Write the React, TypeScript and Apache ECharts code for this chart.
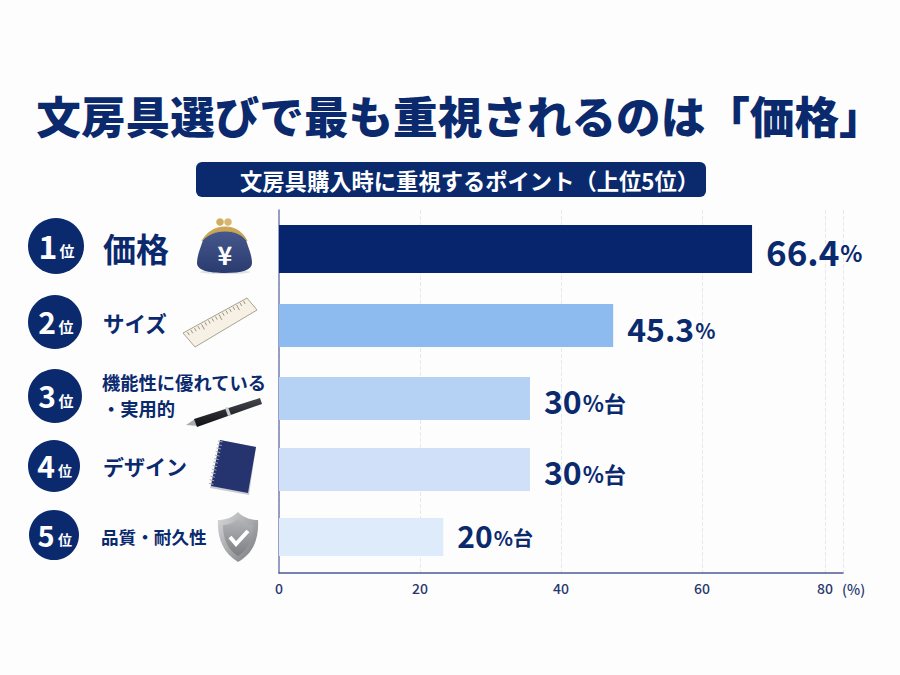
import React, { useEffect, useRef } from "react";
import * as echarts from "echarts";

const titleText = "文房具選びで最も重視されるのは「価格」";
const subtitleText = "文房具購入時に重視するポイント（上位5位）";
const categories = ["価格", "サイズ", "機能性に優れている・実用的", "デザイン", "品質・耐久性"];
const ranks = ["1", "2", "3", "4", "5"];
// bar lengths as they read against the drawn axis
const values = [67.1, 47.4, 35.6, 35.6, 23.3];
const valueTexts = ["66.4", "45.3", "30", "30", "20"];
const valueSuffixes = ["%", "%", "%台", "%台", "%台"];
const barColors = ["#06256c", "#8dbaef", "#b5d2f5", "#cfe0f8", "#deebfb"];
const ticks = [0, 20, 40, 60];
const lastTick = 80;

const NAVY = "#0b2a6e";
const FONT = '"Noto Sans CJK JP", "Noto Sans", sans-serif';
const rowLayout = [
  { top: 225, h: 48, num: 35, suf: 23, dy: 1 },
  { top: 304, h: 43, num: 32, suf: 21, dy: 2 },
  { top: 377, h: 43, num: 32, suf: 22, dy: 1 },
  { top: 448, h: 43, num: 32, suf: 22, dy: 1 },
  { top: 518, h: 38, num: 30, suf: 20, dy: -2 },
];
const badges = [
  { cx: 56, cy: 246, r: 28, d: 32, w: 15 },
  { cx: 55, cy: 322, r: 27, d: 30, w: 15 },
  { cx: 55, cy: 396, r: 27, d: 30, w: 15 },
  { cx: 54, cy: 466, r: 26, d: 30, w: 14 },
  { cx: 54, cy: 535, r: 25, d: 29, w: 14 },
];
const GRID_LEFT = 279;
const GRID_W = 564;

const shapeFrom = (name: string, d: string) =>
  echarts.graphic.registerShape(name, (echarts.graphic as any).extendPath(d, {}));
shapeFrom("purse", "M203 240 C208 232 216 229 225 229 C234 229 242 232 246 240 C248 247 252 255 252 263 C252 270 242 273 225 273 C208 273 197 270 197 263 C197 255 201 247 203 240 Z");
shapeFrom("purseFrame", "M202 241 C207 232 215 227 225 227 C235 227 243 232 247 241 C242 234 234 231 225 231 C216 231 208 234 202 241 Z");
shapeFrom("shieldOuter", "M238 512 C244 518 251 520 258 520 C259 538 254 553 238 562 C223 553 217 538 218 520 C225 520 232 518 238 512 Z");
shapeFrom("shieldInner", "M238 519 C243 523 248 525 253 525 C253 538 249 549 238 556 C227 549 223 538 223 525 C228 525 233 523 238 519 Z");

function icons(): any[] {
  const grad = (x: number, y: number, x2: number, y2: number, a: string, b: string) =>
    new echarts.graphic.LinearGradient(x, y, x2, y2, [{ offset: 0, color: a }, { offset: 1, color: b }]);
  const out: any[] = [
    // purse
    { type: "ellipse", shape: { cx: 225, cy: 272, rx: 25, ry: 2 }, style: { fill: "#dde0e6" } },
    { type: "purse", style: { fill: grad(0, 0, 0, 1, "#47598d", "#2a3b70") } },
    { type: "purseFrame", style: { fill: "#c9a555", stroke: "#c9a555", lineWidth: 1 } },
    { type: "circle", shape: { cx: 220, cy: 222, r: 3.8 }, style: { fill: "#d1ad62" } },
    { type: "circle", shape: { cx: 228, cy: 222, r: 3.8 }, style: { fill: "#d8b76f" } },
    { type: "text", style: { x: 225, y: 254, text: "¥", fill: "#fff", font: `700 25px ${FONT}`, align: "center", verticalAlign: "middle" } },
    // ruler
    { type: "polygon", shape: { points: [[183, 333], [247, 298], [257, 310], [195, 347]] }, style: { fill: "#f6f1e4", stroke: "#a9a28e", lineWidth: 1 } },
    // pen
    { type: "polygon", shape: { points: [[186, 425], [195, 419], [198, 426]] }, style: { fill: "#a8abb0" } },
    { type: "polygon", shape: { points: [[194, 419], [260, 398], [262, 404], [197, 427]] }, style: { fill: grad(0, 0, 0, 1, "#44464c", "#101116") } },
    { type: "polygon", shape: { points: [[225, 408], [228, 407], [231, 415], [228, 416]] }, style: { fill: "#c8ccd2" } },
    // notebook
    { type: "polygon", shape: { points: [[220, 440], [256, 447], [249, 495], [210, 488]] }, style: { fill: "#c9ccd3" } },
    { type: "polygon", shape: { points: [[220, 440], [256, 447], [248, 493], [211, 486]] }, style: { fill: "#25336f" } },
    // shield
    { type: "shieldOuter", style: { fill: grad(0, 0, 1, 1, "#d9dadc", "#77797d") } },
    { type: "shieldInner", style: { fill: grad(0, 0, 0, 1, "#b4b5b8", "#7c7e82") } },
    { type: "polyline", shape: { points: [[230, 537], [236, 544], [248, 531]] }, style: { stroke: "#fff", lineWidth: 4, fill: "none" } },
  ];
  for (let i = 1; i < 18; i++) {
    const t = i / 18;
    const x = 184 + t * 63;
    const y = 334 - t * 35;
    const len = i % 5 === 0 ? 6 : 3.5;
    out.push({ type: "line", shape: { x1: x, y1: y, x2: x + len * 0.48, y2: y + len * 0.88 }, style: { stroke: "#6f6a5c", lineWidth: 0.7 } });
  }
  for (let i = 0; i < 13; i++) {
    const t = i / 12.5;
    const x = 220 - t * 9.5;
    const y = 442 + t * 44;
    out.push({ type: "line", shape: { x1: x - 2, y1: y - 1, x2: x + 2.5, y2: y }, style: { stroke: "#a9acb3", lineWidth: 1 } });
  }
  return out;
}

function textAt(x: number, y: number, text: string, size: number, fill = NAVY, align = "left", weight = 700) {
  return { type: "text", z: 10, style: { x, y, text, fill, font: `${weight} ${size}px ${FONT}`, align, verticalAlign: "middle" } };
}

export default function App() {
  const ref = useRef<HTMLDivElement>(null);
  useEffect(() => {
    document.body.style.margin = "0";
    const chart = echarts.init(ref.current!, null, { renderer: "svg" });
    const rowGrids = rowLayout.map((r) => ({ left: GRID_LEFT, width: GRID_W, top: r.top, height: r.h }));
    const badgeEls = badges.flatMap((b, i) => [
      { type: "circle", shape: { cx: b.cx, cy: b.cy, r: b.r }, style: { fill: NAVY } },
      { type: "text", style: { x: b.cx - 8, y: b.cy - 1, text: ranks[i], fill: "#fff", font: `700 ${b.d}px ${FONT}`, align: "center", verticalAlign: "middle" } },
      { type: "text", style: { x: b.cx + 11, y: b.cy + 4, text: "位", fill: "#fff", font: `700 ${b.w}px ${FONT}`, align: "center", verticalAlign: "middle" } },
    ]);
    const tickLabel = { color: "#28386f", fontSize: 14, fontWeight: 500, margin: 8, fontFamily: FONT };
    const option: any = {
      animation: false,
      backgroundColor: "#fdfdfe",
      textStyle: { fontFamily: FONT },
      title: {
        text: titleText,
        left: 455,
        top: 87,
        textAlign: "center",
        textStyle: { fontFamily: FONT, fontSize: 44.6, fontWeight: 800, color: NAVY },
      },
      grid: [{ left: GRID_LEFT, width: GRID_W, top: 210, height: 363 }, ...rowGrids],
      xAxis: [
        {
          gridIndex: 0, type: "value", position: "bottom", min: 0, max: lastTick, interval: 20,
          axisLine: { show: true, lineStyle: { color: "#4d5a92", width: 1.5 } },
          axisTick: { show: false },
          axisLabel: { ...tickLabel, customValues: ticks },
          splitLine: { show: true, lineStyle: { color: "#e6e8ee", type: "dashed", width: 1 } },
        },
        {
          // the printed 80 tick stands short of the axis end in the reference
          gridIndex: 0, type: "value", position: "bottom", min: 0, max: (lastTick * GRID_W) / 546,
          axisLine: { show: false },
          axisTick: { show: false, customValues: [lastTick] },
          axisLabel: { ...tickLabel, customValues: [lastTick] },
          splitLine: { show: true, lineStyle: { color: "#e6e8ee", type: "dashed", width: 1 } },
        },
        ...rowLayout.map((_, i) => ({ gridIndex: i + 1, type: "value", min: 0, max: lastTick, show: false })),
      ],
      yAxis: [
        {
          gridIndex: 0, type: "category", data: categories, inverse: true,
          axisLine: { show: true, lineStyle: { color: "#7480b0", width: 1.5 } },
          axisTick: { show: false }, axisLabel: { show: false },
        },
        ...rowLayout.map((_, i) => ({ gridIndex: i + 1, type: "category", data: [categories[i]], show: false })),
      ],
      series: values.map((v, i) => ({
        type: "bar",
        name: categories[i],
        xAxisIndex: i + 2,
        yAxisIndex: i + 1,
        barWidth: "100%",
        data: [v],
        itemStyle: { color: barColors[i] },
        label: {
          show: true,
          position: "right",
          distance: 14,
          offset: [0, rowLayout[i].dy],
          formatter: () => `{n|${valueTexts[i]}}{s|${valueSuffixes[i]}}`,
          rich: {
            n: { fontFamily: FONT, fontWeight: 700, fontSize: rowLayout[i].num, color: NAVY },
            s: { fontFamily: FONT, fontWeight: 700, fontSize: rowLayout[i].suf, color: NAVY, padding: [4, 0, 0, 1] },
          },
        },
      })),
      graphic: [
        { type: "rect", shape: { x: 196, y: 162, width: 510, height: 35, r: 6 }, style: { fill: NAVY } },
        textAt(240, 179.5, subtitleText, 22.3, "#fff", "left"),
        ...badgeEls,
        textAt(103, 248, categories[0], 33),
        textAt(103, 322, categories[1], 21.5),
        textAt(102, 382, "機能性に優れている", 18.3),
        textAt(102, 408, "・実用的", 18.3),
        textAt(103, 466, categories[3], 21),
        textAt(101, 536, categories[4], 17.6),
        textAt(842, 589, "(%)", 14, "#28386f", "left", 500),
        ...icons(),
      ],
    };
    chart.setOption(option);
    return () => chart.dispose();
  }, []);
  return <div ref={ref} style={{ width: 900, height: 675 }} />;
}
